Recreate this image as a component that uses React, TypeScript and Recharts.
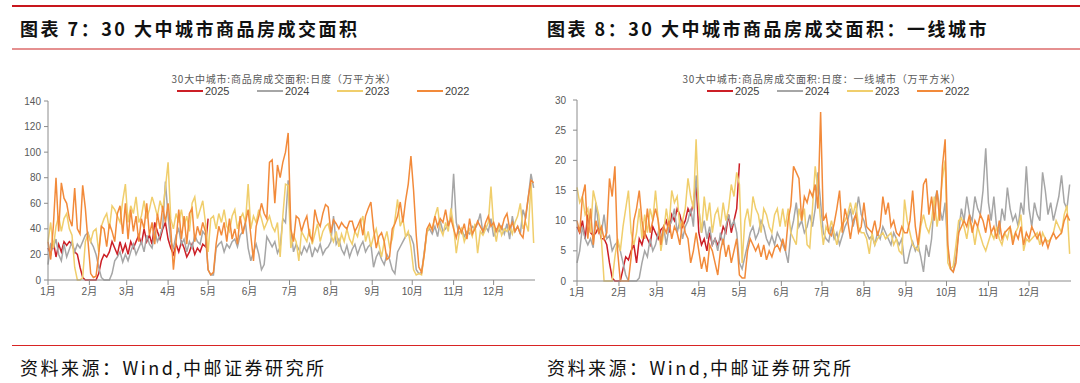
import React from "react";
import { LineChart, Line, XAxis, YAxis } from "recharts";

// month starts (day of year) and their labels
const monthTicks = [0, 31, 59, 90, 120, 151, 181, 212, 243, 273, 304, 334];
const monthLabels = ["1月", "2月", "3月", "4月", "5月", "6月", "7月", "8月", "9月", "10月", "11月", "12月"];
const years = ["2025", "2024", "2023", "2022"];
const COLORS: Record<string, string> = {
  "2025": "#CC1F26",
  "2024": "#A6A6A6",
  "2023": "#F0CE6C",
  "2022": "#F28A3A",
};

// 30 cities, sampled every 2 days (万平方米)
const all2022 = [
  30, 16, 42, 80, 38, 76, 64, 60, 48, 42, 72, 40, 36, 74, 56, 30,
  5, 2, 3, 20, 42, 40, 26, 44, 38, 30, 52, 58, 36, 60,
  32, 55, 38, 50, 30, 48, 40, 60, 35, 45, 28, 52, 40, 58, 45,
  60, 40, 8, 30, 55, 32, 50, 28, 52, 56, 30, 42, 35, 45, 38,
  8, 4, 6, 28, 42, 35, 45, 30, 48, 32, 40, 28, 50, 36, 45, 55,
  35, 15, 42, 50, 60, 52, 48, 92, 94, 60, 90, 80, 92, 100, 115,
  40, 30, 50, 48, 38, 45, 50, 35, 31, 55, 46, 42, 52, 59, 57,
  37, 47, 44, 40, 45, 42, 40, 46, 46, 38, 42, 47, 35, 50, 56, 61,
  40, 25, 34, 37, 30, 16, 18, 40, 44, 50, 61, 45, 62, 75, 97,
  70, 35, 10, 6, 20, 40, 44, 39, 50, 42, 48, 45, 55, 42, 48,
  40, 33, 42, 37, 44, 32, 48, 36, 40, 46, 42, 38, 45, 50, 42,
  45, 38, 44, 40, 48, 52, 40, 45, 38, 42, 36, 33, 50, 65, 78, 76,
];
const all2023 = [
  30, 45, 25, 42, 50, 38, 48, 52, 40, 35, 10, 0, 0, 2, 30, 36,
  30, 38, 40, 22, 42, 48, 52, 40, 58, 55, 50, 45, 62, 75,
  45, 58, 52, 65, 45, 50, 62, 48, 55, 65, 58, 50, 62, 55, 72,
  92, 48, 40, 52, 45, 55, 42, 50, 38, 60, 65, 48, 55, 62, 45,
  22, 48, 50, 40, 52, 45, 55, 42, 38, 50, 55, 40, 48, 52, 45, 75,
  40, 50, 45, 55, 48, 40, 45, 50, 42, 38, 45, 18, 50, 75, 74,
  25, 35, 30, 15, 38, 34, 30, 40, 28, 36, 44, 30, 38, 42, 44,
  35, 30, 38, 26, 36, 30, 40, 32, 28, 38, 34, 44, 50, 30, 38, 26,
  34, 40, 28, 18, 30, 38, 26, 32, 47, 63, 42, 48, 34, 38, 26,
  8, 4, 5, 4, 20, 37, 42, 40, 50, 57, 40, 35, 45, 38, 56,
  42, 21, 35, 40, 30, 36, 40, 34, 44, 21, 38, 35, 40, 45, 73,
  42, 30, 44, 35, 40, 38, 42, 36, 45, 50, 60, 40, 45, 38, 76, 29,
];
const all2024 = [
  12, 28, 25, 32, 20, 15, 28, 18, 24, 30, 22, 28, 25, 30, 35, 37,
  30, 26, 20, 10, 2, 0, 0, 0, 5, 15, 18, 22, 14, 20,
  15, 22, 28, 20, 25, 30, 22, 35, 28, 25, 38, 30, 35, 42, 77,
  50, 30, 25, 35, 40, 28, 32, 22, 30, 25, 35, 30, 28, 38, 35,
  8, 4, 4, 25, 28, 30, 22, 28, 25, 30, 32, 26, 35, 38, 45, 25,
  15, 22, 28, 20, 8, 12, 34, 30, 26, 30, 21, 26, 48, 45, 78,
  40, 22, 28, 24, 20, 26, 22, 28, 18, 25, 22, 28, 20, 24, 26,
  30, 50, 28, 32, 24, 20, 27, 18, 24, 28, 20, 26, 30, 22, 26, 28,
  10, 18, 22, 16, 12, 20, 16, 8, 5, 22, 26, 30, 34, 36, 34,
  28, 8, 5, 6, 22, 38, 40, 36, 42, 34, 46, 38, 40, 45, 48,
  83, 45, 36, 40, 34, 38, 36, 42, 40, 44, 52, 36, 42, 38, 48,
  34, 40, 38, 42, 36, 44, 32, 50, 38, 42, 36, 55, 48, 65, 83, 72,
];
const all2025 = [
  25, 20, 30, 18, 28, 22, 30, 27, 30, 28, 22, 20, 10, 2, 0, 0,
  0, 0, 0, 5, 15, 20, 18, 22, 30, 25, 20, 30, 22, 28,
  20, 30, 25, 30, 35, 28, 40, 30, 35, 28, 45, 38, 32, 40, 45,
  32, 25, 20, 28, 22, 30, 25, 18, 22, 28, 20, 25, 22, 28, 26,
  48,
];

// first-tier cities, sampled every 2 days (万平方米)
const tier1_2022 = [
  10, 8, 14, 16, 7, 12, 6, 10, 8, 9, 7, 8, 17, 14, 19, 5,
  0, 0, 0, 0, 4, 10, 12, 15, 10, 7, 12, 8, 10, 12,
  10, 6, 9, 8, 10, 7, 9, 8, 6, 10, 8, 7, 3, 5, 8,
  5, 2, 4, 1.5, 6, 5, 3, 1, 5, 7, 4, 6, 3, 5, 7,
  1, 0.5, 0.5, 5, 7, 6, 5, 6, 4, 6, 3.5, 5, 4, 5.5, 6, 5,
  7, 5, 10, 12.5, 19, 18, 17, 10, 14, 13, 15, 14, 16, 12, 28,
  10, 11, 8, 7.5, 9.5, 12, 15, 8, 12, 10, 7, 10, 11, 8, 9,
  13, 9, 8.5, 8, 10, 7.5, 9, 14, 11, 13, 9, 10, 8, 7.5, 9, 8,
  8, 10, 15, 9, 6, 10, 16, 17, 11, 14, 10, 15, 10, 19, 23.5,
  6, 2, 1.5, 3, 8, 9, 10, 9, 11, 8, 10, 9, 11, 10, 8,
  11, 8, 9, 7, 10, 7, 8, 8.5, 9, 6, 8, 7, 9, 6, 8,
  7, 9, 8, 7, 8, 6, 7, 5.5, 7, 8, 7, 7.5, 8, 10, 11, 10,
];
const tier1_2023 = [
  15.5, 13, 14, 11, 12, 8, 15, 13, 11, 7, 0, 0, 0, 0, 4, 7,
  5, 9, 12, 15, 8, 6, 8, 12, 7, 11, 8, 12, 10, 15,
  10, 5, 8, 12, 9, 15, 13, 14, 9, 10, 12, 17, 14, 12, 23.5,
  12, 8, 14, 10, 13, 8, 11, 12, 9, 13, 10, 12, 16, 14, 18,
  16, 3, 10, 12, 9, 14, 12, 11, 8, 12, 11, 9, 8, 11, 12, 9,
  12, 9, 12, 8, 7, 6, 12, 10, 12, 6, 5.5, 12, 19, 15, 10,
  6, 9, 8, 10, 8, 6, 8, 9.5, 10, 11, 13, 11, 13, 9, 8,
  8, 7, 4.5, 8, 6, 7, 7.5, 8, 7, 7.5, 8, 6, 7, 5, 4.5, 13.5,
  10, 8, 6, 5.5, 5, 9, 11, 9, 8, 10, 14, 9, 12, 17, 20,
  3, 2, 2.5, 6, 10, 10.5, 9, 7, 10, 9, 6, 9, 7.5, 6, 5,
  6.5, 8, 7, 9, 7, 6, 8, 7, 9, 7, 8, 9, 11, 5, 7,
  6.5, 7, 7.5, 8, 6, 8, 7, 6.5, 7, 8, 10, 9, 8, 11, 12.5, 4.5,
];
const tier1_2024 = [
  3, 5, 9, 7, 6, 7, 5.5, 13, 9, 8, 11, 7, 7.5, 5, 6, 6.5,
  5, 3, 1, 0, 0, 0, 0, 0.5, 3, 5, 4, 7, 5, 6,
  8, 7, 9, 6, 9, 10, 12, 8, 10, 7, 9, 10, 12, 9, 17.5,
  12, 8, 10, 7, 9, 6, 7, 5, 8, 6, 9, 11, 9, 10, 8,
  3, 2, 4, 6, 8, 9, 7, 8, 10, 9, 7, 6, 7.5, 6, 8, 7,
  6, 5, 3, 8, 10, 13, 9, 10, 8, 9, 11, 9, 12, 18, 13,
  8, 7, 6.5, 9, 7, 8, 6, 7.5, 9, 10, 12, 9, 11, 14, 11,
  10, 8, 7, 7.5, 6, 8, 7, 9, 8, 7, 6, 8, 7, 6, 7, 3,
  3, 5, 6.5, 5, 6, 4, 1.5, 6, 4, 7, 13, 15, 12, 10, 13,
  5, 2, 1.5, 4, 8, 12, 10, 14, 11, 10, 14, 12, 11, 15, 22,
  13, 10, 14, 9, 8, 12, 10, 15.5, 12, 10, 11, 9, 13, 11, 19,
  12, 9, 13, 11, 10, 18, 15, 11, 13, 10, 12, 14, 17.5, 13, 12, 16,
];
const tier1_2025 = [
  9, 8, 10, 7, 11, 8, 7.5, 8, 9, 7, 7, 6, 3, 0.5, 0, 0,
  0, 2, 4, 3.5, 5, 6, 3, 7, 6, 8, 7, 6, 9, 8,
  7, 8.5, 9, 10, 8, 11, 10, 12, 11, 9, 10, 12, 11, 13, 16.5,
  8, 6, 7, 5, 8, 6, 7, 6, 7, 9, 8, 11, 8, 10, 12,
  19.5,
];

const buildRows = (s25: number[], s24: number[], s23: number[], s22: number[]) =>
  s22.map((v, i) => ({
    day: i * 2,
    y2025: s25[i] ?? null,
    y2024: s24[i] ?? null,
    y2023: s23[i] ?? null,
    y2022: v,
  }));

const rowsAll = buildRows(all2025, all2024, all2023, all2022);
const rowsTier1 = buildRows(tier1_2025, tier1_2024, tier1_2023, tier1_2022);

const AXIS = "#8C8C8C";
const TICK = { fontSize: 10, fill: "#595959", fontFamily: "'Liberation Sans', 'Noto Sans CJK SC', sans-serif" };

interface PanelProps {
  left: number;
  title: string;
  titleX: number;
  chartTitle: string;
  chartTitleX: number;
  legendX: number;
  legendGap: number;
  rows: any[];
  yMax: number;
  yTicks: number[];
  yWidth: number;
  yMargin: number;
  margin: { top: number; right: number; bottom: number; left: number };
}

const Panel = (p: PanelProps) => (
  <div style={{ position: "absolute", left: p.left, top: 0, width: 540, height: 383 }}>
    <div
      style={{
        position: "absolute", left: p.titleX, top: 15, lineHeight: "26px", fontSize: 18,
        fontWeight: 700, letterSpacing: 2.5, color: "#111", whiteSpace: "nowrap",
      }}
    >
      {p.title}
    </div>
    <div
      style={{
        position: "absolute", left: p.chartTitleX - 200, width: 400, top: 72, lineHeight: "14px",
        fontSize: 10, letterSpacing: 0.8, color: "#595959", textAlign: "center", whiteSpace: "nowrap",
      }}
    >
      {p.chartTitle}
    </div>
    {years.map((y, i) => (
      <div key={y} style={{ position: "absolute", left: p.legendX + i * p.legendGap, top: 84, height: 14 }}>
        <div style={{ position: "absolute", left: 0, top: 6, width: 26, height: 2, background: COLORS[y] }} />
        <div
          style={{
            position: "absolute", left: 28, top: 0, lineHeight: "14px", fontSize: 11,
            color: "#404040", fontFamily: "'Liberation Sans', sans-serif",
          }}
        >
          {y}
        </div>
      </div>
    ))}
    <div style={{ position: "absolute", left: 0, top: 90 }}>
      <LineChart width={540} height={230} data={p.rows} margin={p.margin}>
        <XAxis
          type="number"
          dataKey="day"
          domain={[0, 365]}
          ticks={monthTicks}
          interval={0}
          tickFormatter={(v: number) => monthLabels[monthTicks.indexOf(v)]}
          axisLine={{ stroke: AXIS }}
          tickLine={{ stroke: AXIS }}
          tick={TICK}
          tickSize={5}
          tickMargin={3}
          height={30}
        />
        <YAxis
          type="number"
          domain={[0, p.yMax]}
          ticks={p.yTicks}
          interval={0}
          width={p.yWidth}
          axisLine={{ stroke: AXIS }}
          tickLine={{ stroke: AXIS }}
          tick={TICK}
          tickSize={4}
          tickMargin={p.yMargin}
        />
        {years.map((y) => (
          <Line
            key={y}
            type="linear"
            dataKey={`y${y}`}
            stroke={COLORS[y]}
            strokeWidth={1.5}
            dot={false}
            isAnimationActive={false}
          />
        ))}
      </LineChart>
    </div>
    <div
      style={{
        position: "absolute", left: p.titleX, top: 355, lineHeight: "24px", fontSize: 18,
        letterSpacing: 2.5, color: "#111", whiteSpace: "nowrap",
      }}
    >
      资料来源：Wind,中邮证券研究所
    </div>
  </div>
);

export default function App() {
  return (
    <div
      style={{
        position: "fixed", left: 0, top: 0, width: 1080, height: 383, background: "#fff",
        overflow: "hidden", fontFamily: "'Noto Sans CJK SC', sans-serif",
      }}
    >
      <div style={{ position: "absolute", left: 12, top: 5, width: 1068, height: 2, background: "#C8161D" }} />
      <div style={{ position: "absolute", left: 12, top: 48, width: 1068, height: 2, background: "#E59090" }} />
      <div style={{ position: "absolute", left: 12, top: 345, width: 1068, height: 1, background: "#D82424" }} />
      <Panel
        left={0}
        title="图表 7：30 大中城市商品房成交面积"
        titleX={20}
        chartTitle="30大中城市:商品房成交面积:日度（万平方米）"
        chartTitleX={284}
        legendX={177}
        legendGap={80}
        rows={rowsAll}
        yMax={140}
        yTicks={[0, 20, 40, 60, 80, 100, 120, 140]}
        yWidth={40}
        yMargin={3}
        margin={{ top: 11, right: 5, bottom: 10, left: 8 }}
      />
      <Panel
        left={540}
        title="图表 8：30 大中城市商品房成交面积：一线城市"
        titleX={7}
        chartTitle="30大中城市:商品房成交面积:日度：一线城市（万平方米）"
        chartTitleX={282}
        legendX={167}
        legendGap={70}
        rows={rowsTier1}
        yMax={30}
        yTicks={[0, 5, 10, 15, 20, 25, 30]}
        yWidth={30}
        yMargin={7}
        margin={{ top: 10, right: 9, bottom: 9, left: 7 }}
      />
    </div>
  );
}
